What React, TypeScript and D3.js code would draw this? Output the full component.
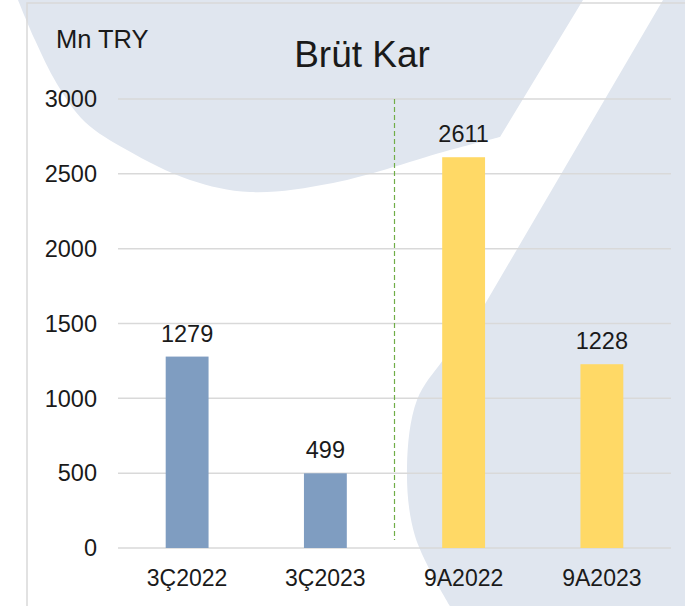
import React, { useEffect, useRef } from 'react';
import * as d3 from 'd3';

const categories = ['3Ç2022', '3Ç2023', '9A2022', '9A2023'];
const values = [1279, 499, 2611, 1228];
const barColors = ['#7f9dc1', '#7f9dc1', '#ffd966', '#ffd966'];
const yTicks = [0, 500, 1000, 1500, 2000, 2500, 3000];

// decorative background outlines
const topShape: [number, number][] = [
  [18, 0], [35, 40], [57, 84], [85, 122], [127, 150], [190, 180],
  [250, 192], [333, 183], [450, 150], [500, 137],
];
const rightShape: [number, number][] = [
  [450, 606], [415, 536], [407, 467], [417, 400], [443, 360], [478, 316],
];

const App = () => {
  const svgRef = useRef<SVGSVGElement>(null);

  useEffect(() => {
    const width = 685;
    const height = 606;
    const font = '"Liberation Sans", Arial, sans-serif';

    const svg = d3.select(svgRef.current)
      .attr('width', width)
      .attr('height', height);
    svg.selectAll('*').remove();

    svg.append('rect')
      .attr('width', width)
      .attr('height', height)
      .attr('fill', '#ffffff');

    const curve = d3.line().curve(d3.curveCatmullRom);
    const shade = '#e0e6ef';

    svg.append('path')
      .attr('d', curve(topShape) + 'L583,0Z')
      .attr('fill', shade);

    svg.append('path')
      .attr('d', 'M663,0L685,0L685,606L450,606' + curve(rightShape)!.replace(/^M[^A-Z]*/, '') + 'L663,0Z')
      .attr('fill', shade);

    // frame
    svg.append('path')
      .attr('d', 'M27,606L27,3L685,3')
      .attr('fill', 'none')
      .attr('stroke', '#d9d9d9')
      .attr('stroke-width', 1.5);

    const x = d3.scaleBand()
      .domain(categories)
      .range([118, 671])
      .paddingInner(0.69)
      .paddingOuter(0.345);

    const y = d3.scaleLinear()
      .domain([0, 3000])
      .range([548, 99]);

    svg.append('g')
      .selectAll('line')
      .data(yTicks)
      .enter()
      .append('line')
      .attr('x1', 118)
      .attr('x2', 671)
      .attr('y1', d => y(d))
      .attr('y2', d => y(d))
      .attr('stroke', '#d9d9d9')
      .attr('stroke-width', 1.5);

    svg.append('g')
      .selectAll('text')
      .data(yTicks)
      .enter()
      .append('text')
      .attr('x', 97)
      .attr('y', d => y(d))
      .attr('dy', '0.35em')
      .attr('text-anchor', 'end')
      .attr('font-family', font)
      .attr('font-size', 23.5)
      .attr('fill', '#1a1a1a')
      .text(d => d);

    // separator between quarter and 9-month figures
    const sepX = x(categories[2])! - (x.step() - x.bandwidth()) / 2;
    svg.append('line')
      .attr('x1', sepX)
      .attr('x2', sepX)
      .attr('y1', y(3000))
      .attr('y2', y(0) - 8)
      .attr('stroke', '#70ad47')
      .attr('stroke-width', 1.2)
      .attr('stroke-dasharray', '5,3');

    svg.append('g')
      .selectAll('rect')
      .data(values)
      .enter()
      .append('rect')
      .attr('x', (d, i) => x(categories[i])!)
      .attr('y', d => y(d))
      .attr('width', x.bandwidth())
      .attr('height', d => y(0) - y(d))
      .attr('fill', (d, i) => barColors[i]);

    svg.append('g')
      .selectAll('text')
      .data(values)
      .enter()
      .append('text')
      .attr('x', (d, i) => x(categories[i])! + x.bandwidth() / 2)
      .attr('y', d => y(d) - 15)
      .attr('text-anchor', 'middle')
      .attr('font-family', font)
      .attr('font-size', 23.5)
      .attr('fill', '#1a1a1a')
      .text(d => d);

    svg.append('g')
      .selectAll('text')
      .data(categories)
      .enter()
      .append('text')
      .attr('x', d => x(d)! + x.bandwidth() / 2)
      .attr('y', 586)
      .attr('text-anchor', 'middle')
      .attr('font-family', font)
      .attr('font-size', 23)
      .attr('fill', '#1a1a1a')
      .text(d => d);

    svg.append('text')
      .attr('x', 362)
      .attr('y', 67)
      .attr('text-anchor', 'middle')
      .attr('font-family', font)
      .attr('font-size', 37)
      .attr('fill', '#1a1a1a')
      .text('Brüt Kar');

    svg.append('text')
      .attr('x', 56)
      .attr('y', 48)
      .attr('font-family', font)
      .attr('font-size', 25.5)
      .attr('fill', '#1a1a1a')
      .text('Mn TRY');
  }, []);

  return <svg ref={svgRef} style={{ position: 'absolute', left: 0, top: 0, display: 'block' }} />;
};

export default App;
